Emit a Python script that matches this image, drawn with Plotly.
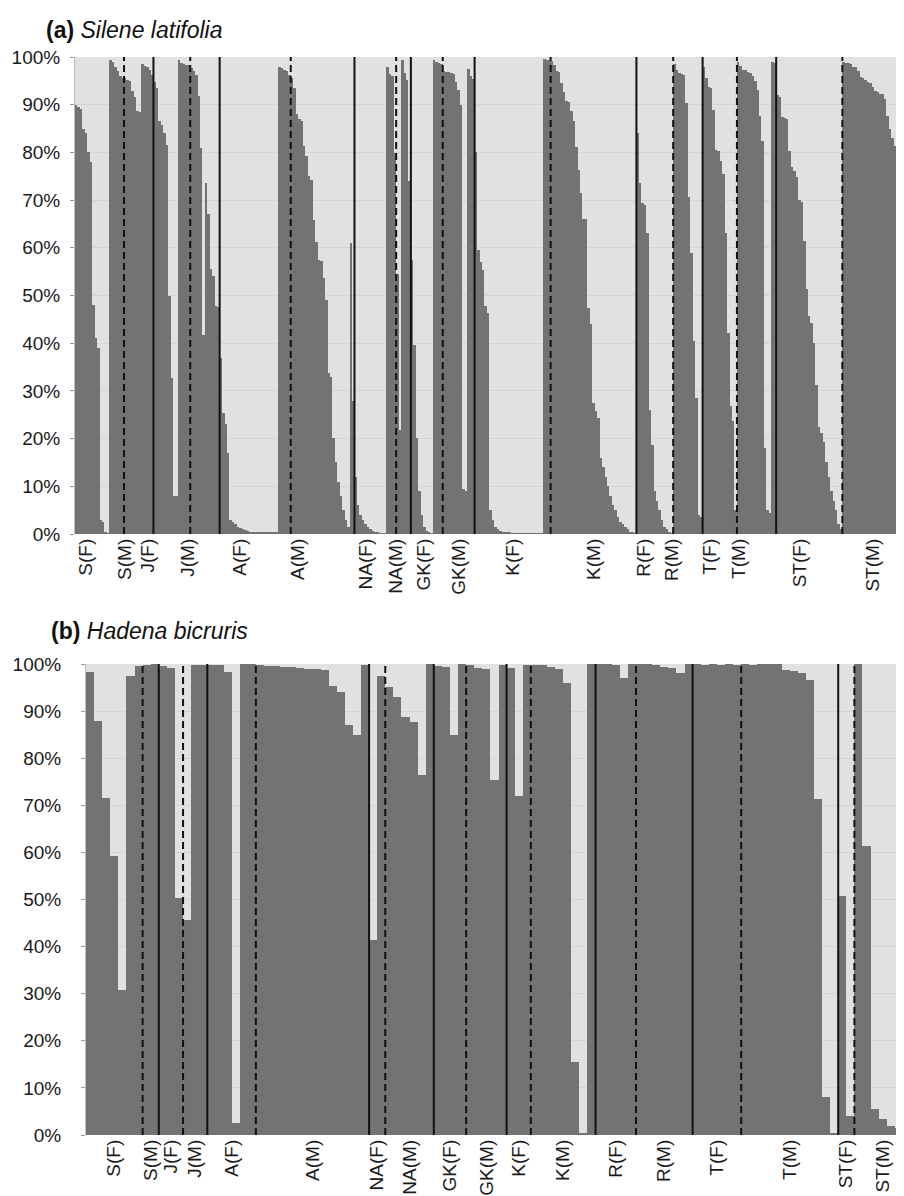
import plotly.graph_objects as go

# ---------------- Panel (a) Silene latifolia : % membership (dark cluster) per individual ----------------
a_labels = ["S(F)", "S(M)", "J(F)", "J(M)", "A(F)", "A(M)", "NA(F)", "NA(M)", "GK(F)",
            "GK(M)", "K(F)", "K(M)", "R(F)", "R(M)", "T(F)", "T(M)", "ST(F)", "ST(M)"]
a_line_styles = ["dash", "solid", "dash", "solid", "dash", "solid", "dash", "solid", "dash",
                 "solid", "dash", "solid", "dash", "solid", "dash", "solid", "dash"]

a_S_F = [90, 89.5, 89, 85, 84, 80, 78, 48, 41, 39, 3, 2.5, 0.3, 0.2, 99.4, 99, 98, 97, 96, 95.6]
a_S_M = [95.5, 95.2, 95, 92.8, 91.7, 88.6, 88.5, 98.6, 98.2, 97.8, 97.3, 96.3]
a_J_F = [94.7, 93.5, 86.5, 85.8, 84, 81.6, 50, 32.7, 8, 8, 99.3, 98.7, 98.6, 98.4, 98.3]
a_J_M = [97.7, 97, 96.2, 91.9, 80.9, 41.7, 73.6, 67.1, 55.5, 54, 47.7, 47.5]
a_A_F = [36.8, 25.4, 23, 17, 3, 2.5, 2, 1.5, 1.2, 1, 0.8, 0.6, 0.5, 0.4, 0.3, 0.3, 0.3, 0.3,
         0.3, 0.3, 0.3, 0.3, 0.3, 0.3, 97.9, 97.7, 97.2, 97, 96.2]
a_A_M = [95.6, 93.5, 88.1, 86.9, 86.5, 81.4, 79.3, 75.1, 74.3, 65.9, 61.2, 57.5, 57.3, 53.6,
         49.1, 33.7, 33, 20.1, 15, 11, 8, 5, 3, 1.5, 61, 27.8]
a_NA_F = [12, 6, 4, 3, 2, 1.5, 1, 0.7, 0.5, 0.3, 0.2, 0.2, 0.2, 97.8, 96.5, 96, 79.9]
a_NA_M = [54.5, 21.7, 99.3, 96.6, 95.2, 74]
a_GK_F = [57.5, 39.7, 20.1, 9, 4, 1.5, 0.6, 0.3, 0.2, 99.3, 99, 98.7, 98.5]
a_GK_M = [97, 96.9, 96.8, 96.6, 96.4, 94.7, 93, 89.9, 9.5, 9, 97.5, 96, 95.4]
a_K_F = [80, 59.6, 57, 55.4, 47.8, 46.4, 5, 3, 1.5, 1, 0.7, 0.5, 0.4, 0.3, 0.3, 0.2, 0.2, 0.2,
         0.2, 0.2, 0.2, 0.2, 0.2, 0.2, 0.2, 0.2, 0.2, 0.2, 99.5, 99.4, 99.3]
a_K_M = [99.1, 98.4, 97, 96.8, 94.5, 92.7, 90.7, 90.5, 88.7, 86.5, 81.1, 76.4, 71.5, 66.1, 66,
         47.3, 44, 27.4, 25.7, 24.3, 16, 14, 12, 10, 8, 6, 5, 3.5, 2.5, 2, 1.5, 1, 0.5, 0.3, 0.2]
a_R_F = [84, 73.6, 69.4, 69, 63.2, 26, 18.7, 9, 7, 5, 3, 1.5, 1, 0.5, 0.2]
a_R_M = [98.6, 97.3, 96.6, 96.5, 96.3, 90.3, 70.6, 58.9, 40.4, 28.5, 4, 3.5]
a_T_F = [97.9, 95.6, 93.8, 93.5, 88.8, 80.6, 80.3, 78.1, 75.5, 63.2, 42.1, 26.9, 23.6, 5]
a_T_M = [98.9, 98.2, 97.3, 97.2, 96.9, 96.7, 96, 94.9, 93.1, 87.7, 82.3, 18, 5, 4.5, 98.9, 98.8]
a_ST_F = [92, 91.6, 87.4, 87.2, 86.9, 80.2, 76.9, 76, 74.8, 70, 69.5, 61.5, 51.3, 45.7, 44.3,
          40, 31.3, 22.4, 21.1, 19.2, 15, 12, 9, 7, 5, 2, 1]
a_ST_M = [99, 98.8, 98.7, 98.5, 98, 97.8, 97, 95.9, 95.5, 95.1, 94.8, 94.5, 93.8, 92.8, 92.6,
          92.3, 92.2, 91.2, 87.7, 84.9, 83, 81.4, 79.2, 53.3, 26.6, 12, 5.5, 5]

a_groups = [a_S_F, a_S_M, a_J_F, a_J_M, a_A_F, a_A_M, a_NA_F, a_NA_M, a_GK_F,
            a_GK_M, a_K_F, a_K_M, a_R_F, a_R_M, a_T_F, a_T_M, a_ST_F, a_ST_M]

# ---------------- Panel (b) Hadena bicruris ----------------
b_labels = a_labels
b_line_styles = a_line_styles

b_S_F = [98.2, 87.8, 71.5, 59.2, 30.7, 97.5, 99.6]
b_S_M = [99.8, 99.9]
b_J_F = [99.6, 99.1, 50.3]
b_J_M = [45.7, 99.8, 99.8]
b_A_F = [99.8, 99.8, 98.4, 2.5, 99.9, 99.9]
b_A_M = [99.8, 99.6, 99.5, 99.4, 99.3, 99.1, 99, 98.9, 98.7, 95.4, 94.1, 87, 85, 99.8]
b_NA_F = [41.3, 97.5]
b_NA_M = [95.2, 92.9, 88.8, 87.6, 76.5, 99.9]
b_GK_F = [99.6, 99.4, 85, 99.9]
b_GK_M = [99.7, 99.2, 98.9, 75.4, 99.8]
b_K_F = [99.2, 71.9, 99.8]
b_K_M = [99.8, 99.7, 99.4, 98.9, 96, 15.5, 0.5, 99.9]
b_R_F = [99.9, 99.9, 99.7, 97, 99.9]
b_R_M = [99.9, 99.9, 99.7, 99.3, 99.1, 98, 99.9]
b_T_F = [99.9, 99.8, 99.9, 99.8, 99.9, 99.8]
b_T_M = [99.9, 99.8, 99.9, 99.9, 99.9, 98.7, 98.5, 98, 96.6, 71.4, 8, 0.5]
b_ST_F = [50.8, 4]
b_ST_M = [99.9, 61.3, 5.5, 3.5, 2, 1.5, 1.3]

b_groups = [b_S_F, b_S_M, b_J_F, b_J_M, b_A_F, b_A_M, b_NA_F, b_NA_M, b_GK_F,
            b_GK_M, b_K_F, b_K_M, b_R_F, b_R_M, b_T_F, b_T_M, b_ST_F, b_ST_M]

y_ticks = list(range(0, 101, 10))
y_ticktext = [f"{v}%" for v in y_ticks]

# ---------------- styling / layout ----------------
W, H = 904, 1196
DARK = "#737373"
LIGHT = "#e1e1e1"
FONT = "Liberation Sans, Arial, sans-serif"

# horizontal pixel where each group name of panel (a) is written (layout only)
a_label_px = [78, 117, 140, 180, 232, 290, 358, 388, 416, 451, 505, 586, 636, 664, 702, 731, 792, 865]


def px_x(p):
    return p / W


def px_y(p):
    return 1 - p / H


fig = go.Figure()

panels = [
    dict(groups=a_groups, labels=a_labels, styles=a_line_styles, label_px=a_label_px, xa="x", ya="y",
         left=67, right=903, ydom=[px_y(526), px_y(49)],
         title="<b>(a)</b> <i>Silene latifolia</i>", title_x=36, title_y=px_y(22), standoff=6),
    dict(groups=b_groups, labels=b_labels, styles=b_line_styles, label_px=None, xa="x2", ya="y2",
         left=78, right=903, ydom=[px_y(1127), px_y(656)],
         title="<b>(b)</b> <i>Hadena bicruris</i>", title_x=41, title_y=px_y(623), standoff=16),
]

shapes = []
annotations = []
for i, p in enumerate(panels):
    values = [v for g in p["groups"] for v in g]
    n = len(values)
    fig.add_trace(go.Bar(x=list(range(n)), y=values, marker=dict(color=DARK, line=dict(width=0)),
                         xaxis=p["xa"], yaxis=p["ya"], showlegend=False, hoverinfo="y"))
    cum = 0
    centers = []
    bounds = []
    for g in p["groups"]:
        centers.append(cum + (len(g) - 1) / 2)
        cum += len(g)
        bounds.append(cum - 0.5)
    if p["label_px"] is not None:
        unit = (p["right"] - p["left"]) / n
        label_pos = [(lp - p["left"]) / unit - 0.5 for lp in p["label_px"]]
    else:
        label_pos = centers
    for b, st in zip(bounds[:-1], p["styles"]):
        shapes.append(dict(type="line", xref=p["xa"], yref=p["ya"] + " domain",
                           x0=b, x1=b, y0=0, y1=1,
                           line=dict(color="#111111", width=2,
                                     dash="solid" if st == "solid" else "7px,4px")))
    sfx = "" if i == 0 else "2"
    fig.layout["xaxis" + sfx] = dict(domain=[px_x(p["left"]), px_x(p["right"])], range=[-0.5, n - 0.5],
                                     anchor=p["ya"],
                                     tickmode="array", tickvals=label_pos, ticktext=p["labels"],
                                     tickangle=-90, ticks="", showgrid=False, zeroline=False,
                                     showline=False, tickfont=dict(size=19, color="#1a1a1a", family=FONT))
    fig.layout["yaxis" + sfx] = dict(domain=p["ydom"], range=[0, 100], anchor=p["xa"],
                                     tickmode="array", tickvals=y_ticks, ticktext=y_ticktext,
                                     ticks="outside", ticklen=4, tickcolor="#9a9a9a",
                                     showline=True, linecolor="#bdbdbd", linewidth=1,
                                     showgrid=True, gridcolor="#d4d4d4", gridwidth=1,
                                     zeroline=False, ticklabelstandoff=p["standoff"],
                                     tickfont=dict(size=19, color="#1a1a1a", family=FONT))
    annotations.append(dict(text=p["title"], xref="paper", yref="paper", x=px_x(p["title_x"]),
                            y=p["title_y"], xanchor="left", yanchor="middle", showarrow=False,
                            font=dict(size=23, color="#111111", family=FONT)))

fig.update_layout(width=W, height=H, margin=dict(l=0, r=0, t=0, b=0, autoexpand=False),
                  paper_bgcolor="white", plot_bgcolor=LIGHT, barmode="overlay", bargap=0,
                  shapes=shapes, annotations=annotations, font=dict(family=FONT))

fig.write_html("out.html")
